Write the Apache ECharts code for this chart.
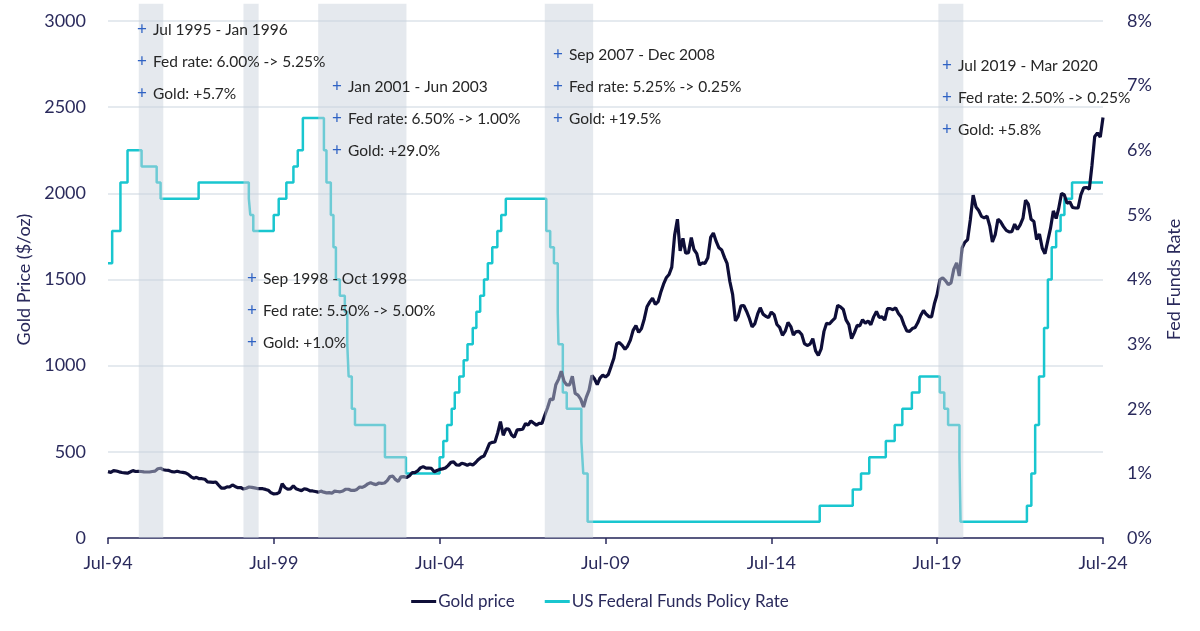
<!DOCTYPE html>
<html>
<head>
<meta charset="utf-8">
<script src="https://cdn.jsdelivr.net/npm/echarts@6/dist/echarts.min.js"></script>
<style>
  html, body { margin: 0; padding: 0; background: #ffffff; }
  #chart { width: 1200px; height: 631px; }
</style>
</head>
<body>
<div id="chart"></div>
<script>
// ---------- DATA ----------
// Monthly gold price ($/oz), Jul 1994 .. Jul 2024
const goldStart = [1994, 7];
const goldPrice = [
  385, 381, 391, 389, 384, 380,
  378, 376, 383, 391, 386, 387, 386, 384, 383, 383, 386, 388,
  402, 405, 396, 393, 392, 385, 383, 387, 383, 381, 378, 369,
  355, 347, 352, 344, 344, 341, 325, 324, 323, 325, 306, 289,
  289, 297, 296, 308, 299, 292, 293, 284, 289, 296, 294, 291,
  287, 287, 286, 282, 277, 262, 256, 257, 265, 315, 293, 283,
  285, 302, 286, 280, 275, 286, 282, 274, 273, 270, 266, 272,
  266, 262, 263, 260, 272, 270, 268, 273, 283, 283, 276, 276,
  282, 296, 294, 302, 314, 321, 314, 310, 319, 317, 319, 333,
  357, 359, 340, 328, 355, 356, 351, 360, 379, 379, 389, 407,
  414, 405, 406, 404, 384, 392, 398, 401, 406, 420, 439, 442,
  424, 423, 434, 429, 422, 430, 424, 438, 456, 469, 476, 510,
  549, 555, 557, 610, 676, 596, 633, 632, 598, 585, 627, 629,
  631, 664, 655, 679, 667, 655, 665, 665, 712, 754, 806, 803,
  889, 922, 968, 909, 888, 889, 939, 839, 829, 806, 760, 816,
  858, 943, 924, 890, 928, 945, 934, 949, 996, 1043, 1127, 1134,
  1118, 1095, 1113, 1148, 1205, 1232, 1193, 1215, 1271, 1342, 1370, 1391,
  1356, 1372, 1424, 1473, 1510, 1529, 1572, 1756, 1850, 1666, 1739, 1652,
  1656, 1743, 1674, 1650, 1585, 1596, 1594, 1626, 1744, 1770, 1721, 1684,
  1671, 1627, 1593, 1487, 1414, 1260, 1286, 1347, 1349, 1316, 1275, 1225,
  1244, 1300, 1336, 1299, 1287, 1279, 1311, 1296, 1239, 1222, 1176, 1200,
  1251, 1227, 1178, 1198, 1199, 1181, 1128, 1117, 1125, 1157, 1086, 1060,
  1097, 1199, 1246, 1242, 1260, 1276, 1350, 1341, 1326, 1266, 1238, 1157,
  1192, 1234, 1231, 1267, 1246, 1260, 1237, 1283, 1315, 1280, 1283, 1265,
  1331, 1331, 1325, 1335, 1303, 1282, 1238, 1202, 1199, 1215, 1221, 1250,
  1291, 1320, 1300, 1285, 1283, 1359, 1413, 1500, 1510, 1494, 1470, 1480,
  1560, 1597, 1520, 1683, 1716, 1732, 1847, 1990, 1921, 1900, 1866, 1858,
  1867, 1808, 1718, 1760, 1850, 1834, 1807, 1785, 1776, 1777, 1821, 1790,
  1817, 1856, 1960, 1937, 1849, 1836, 1732, 1764, 1681, 1650, 1726, 1798,
  1898, 1854, 1912, 1999, 1992, 1942, 1951, 1918, 1915, 1916, 1993, 2032,
  2034, 2024, 2160, 2330, 2350, 2326, 2440
];

// Fed funds target rate (%): [date of change, new rate]
const fedRate = [
  ['1994-07-01',4.25],['1994-08-16',4.75],['1994-11-15',5.5],['1995-02-01',6.0],
  ['1995-07-06',5.75],['1995-12-19',5.5],['1996-01-31',5.25],['1997-03-25',5.5],
  ['1998-09-29',5.25],['1998-10-15',5.0],['1998-11-17',4.75],['1999-06-30',5.0],
  ['1999-08-24',5.25],['1999-11-16',5.5],['2000-02-02',5.75],['2000-03-21',6.0],
  ['2000-05-16',6.5],['2001-01-03',6.0],['2001-01-31',5.5],['2001-03-20',5.0],
  ['2001-04-18',4.5],['2001-05-15',4.0],['2001-06-27',3.75],['2001-08-21',3.5],
  ['2001-09-17',3.0],['2001-10-02',2.5],['2001-11-06',2.0],['2001-12-11',1.75],
  ['2002-11-06',1.25],['2003-06-25',1.0],['2004-06-30',1.25],['2004-08-10',1.5],
  ['2004-09-21',1.75],['2004-11-10',2.0],['2004-12-14',2.25],['2005-02-02',2.5],
  ['2005-03-22',2.75],['2005-05-03',3.0],['2005-06-30',3.25],['2005-08-09',3.5],
  ['2005-09-20',3.75],['2005-11-01',4.0],['2005-12-13',4.25],['2006-01-31',4.5],
  ['2006-03-28',4.75],['2006-05-10',5.0],['2006-06-29',5.25],['2007-09-18',4.75],
  ['2007-10-31',4.5],['2007-12-11',4.25],['2008-01-22',3.5],['2008-01-30',3.0],
  ['2008-03-18',2.25],['2008-04-30',2.0],['2008-10-08',1.5],['2008-10-29',1.0],
  ['2008-12-16',0.25],['2015-12-16',0.5],['2016-12-14',0.75],['2017-03-15',1.0],
  ['2017-06-14',1.25],['2017-12-13',1.5],['2018-03-21',1.75],['2018-06-13',2.0],
  ['2018-09-26',2.25],['2018-12-19',2.5],['2019-07-31',2.25],['2019-09-18',2.0],
  ['2019-10-30',1.75],['2020-03-03',1.25],['2020-03-15',0.25],['2022-03-16',0.5],
  ['2022-05-04',1.0],['2022-06-15',1.75],['2022-07-27',2.5],['2022-09-21',3.25],
  ['2022-11-02',4.0],['2022-12-14',4.5],['2023-02-01',4.75],['2023-03-22',5.0],
  ['2023-05-03',5.25],['2023-07-26',5.5],['2024-07-01',5.5]
];

// Shaded rate-cut periods [start, end]
const cutPeriods = [
  ['1995-06-05','1996-03-01'],
  ['1998-08-01','1999-01-15'],
  ['2000-11-01','2003-07-01'],
  ['2007-09-01','2009-02-15'],
  ['2019-07-15','2020-04-15']
];

// Annotation text for each period
const notes = [
  ['Jul 1995 - Jan 1996', 'Fed rate: 6.00% -> 5.25%', 'Gold: +5.7%'],
  ['Sep 1998 - Oct 1998', 'Fed rate: 5.50% -> 5.00%', 'Gold: +1.0%'],
  ['Jan 2001 - Jun 2003', 'Fed rate: 6.50% -> 1.00%', 'Gold: +29.0%'],
  ['Sep 2007 - Dec 2008', 'Fed rate: 5.25% -> 0.25%', 'Gold: +19.5%'],
  ['Jul 2019 - Mar 2020', 'Fed rate: 2.50% -> 0.25%', 'Gold: +5.8%']
];

const xTickYears = [1994, 1999, 2004, 2009, 2014, 2019, 2024];

// ---------- BUILD ----------
function ts(s) { const p = s.split('-'); return Date.UTC(+p[0], +p[1] - 1, +p[2]); }
const goldData = goldPrice.map(function (v, i) {
  const m = goldStart[1] - 1 + i;
  const y = goldStart[0] + Math.floor(m / 12);
  return [Date.UTC(y, m % 12, 1), v];
});
const fedData = fedRate.map(function (d) { return [ts(d[0]), d[1]]; });
const shadeData = cutPeriods.map(function (p) { return [ts(p[0]), ts(p[1])]; });
const xTicks = xTickYears.map(function (y) { return Date.UTC(y, 6, 1); });

const FONT = 'Lato';
const NAVY = '#2a2a5c';
const SHADE_TOP = 3100;

// annotation layout (positions only)
const notePos = [[137, 30], [247, 279], [332, 87], [553, 55], [942, 66]];
const LINE_GAP = 32;
const graphics = [];
notes.forEach(function (lines, k) {
  lines.forEach(function (t, j) {
    graphics.push({
      type: 'text',
      left: notePos[k][0],
      top: notePos[k][1] + j * LINE_GAP - 9,
      z: 100,
      style: {
        text: '{p|+}{t|' + t + '}',
        rich: {
          p: { fill: '#2f62c4', fontSize: 17, fontFamily: FONT, width: 16 },
          t: { fill: '#262626', fontSize: 15.5, fontFamily: FONT }
        }
      }
    });
  });
});

const chart = echarts.init(document.getElementById('chart'), null, { renderer: 'canvas' });
chart.setOption({
  animation: false,
  backgroundColor: '#ffffff',
  textStyle: { fontFamily: FONT },
  grid: { left: 108, right: 97, top: 21, bottom: 93, containLabel: false },
  legend: {
    bottom: 16,
    left: 'center',
    data: [
      { name: 'Gold price', icon: 'rect' },
      { name: 'US Federal Funds Policy Rate', icon: 'rect' }
    ],
    itemWidth: 25,
    itemHeight: 3,
    itemGap: 30,
    textStyle: { fontFamily: FONT, fontSize: 17, color: NAVY, padding: [0, 0, 0, -3] }
  },
  xAxis: {
    type: 'value',
    min: xTicks[0],
    max: xTicks[xTicks.length - 1],
    axisLine: { lineStyle: { color: NAVY, width: 1.5 } },
    axisTick: { show: true, length: 6, customValues: xTicks, lineStyle: { color: NAVY, width: 1.5 } },
    axisLabel: {
      customValues: xTicks,
      margin: 16,
      fontSize: 18, fontFamily: FONT, color: NAVY,
      formatter: function (v) { return 'Jul-' + String(new Date(v).getUTCFullYear()).slice(2); }
    },
    splitLine: { show: false }
  },
  yAxis: [
    {
      type: 'value', min: 0, max: 3000, interval: 500,
      name: 'Gold Price ($/oz)', nameLocation: 'middle', nameGap: 62,
      nameTextStyle: { fontSize: 18, fontFamily: FONT, color: NAVY },
      axisLine: { show: false }, axisTick: { show: false },
      axisLabel: { margin: 22, fontSize: 18, fontFamily: FONT, color: NAVY,
        formatter: function (v) { return String(v); } },
      splitLine: { lineStyle: { color: '#dde3ea', width: 1.5 } }
    },
    {
      type: 'value', min: 0, max: 8, interval: 1, position: 'right',
      name: 'Fed Funds Rate', nameLocation: 'middle', nameGap: 62,
      nameTextStyle: { fontSize: 18, fontFamily: FONT, color: NAVY },
      axisLine: { show: false }, axisTick: { show: false },
      axisLabel: { margin: 24, fontSize: 18, fontFamily: FONT, color: NAVY, formatter: '{value}%' },
      splitLine: { show: false }
    }
  ],
  series: [
    {
      name: 'US Federal Funds Policy Rate',
      type: 'line', yAxisIndex: 1, step: 'end',
      data: fedData, symbol: 'none',
      lineStyle: { color: '#19c6cf', width: 2.5 },
      itemStyle: { color: '#19c6cf' },
      z: 2
    },
    {
      name: 'Gold price',
      type: 'line', yAxisIndex: 0,
      data: goldData, symbol: 'none',
      lineStyle: { color: '#0e0e38', width: 3.2 },
      itemStyle: { color: '#0e0e38' },
      z: 3
    },
    {
      name: 'shade',
      type: 'custom',
      yAxisIndex: 0,
      z: 10,
      silent: true,
      clip: false,
      data: shadeData,
      encode: { x: [0, 1] },
      renderItem: function (params, api) {
        const a = api.coord([api.value(0), SHADE_TOP]);
        const b = api.coord([api.value(1), 0]);
        return {
          type: 'rect',
          shape: { x: a[0], y: a[1], width: b[0] - a[0], height: b[1] - a[1] },
          style: { fill: 'rgba(200,209,219,0.48)' }
        };
      }
    }
  ],
  graphic: graphics
});
</script>
</body>
</html>
